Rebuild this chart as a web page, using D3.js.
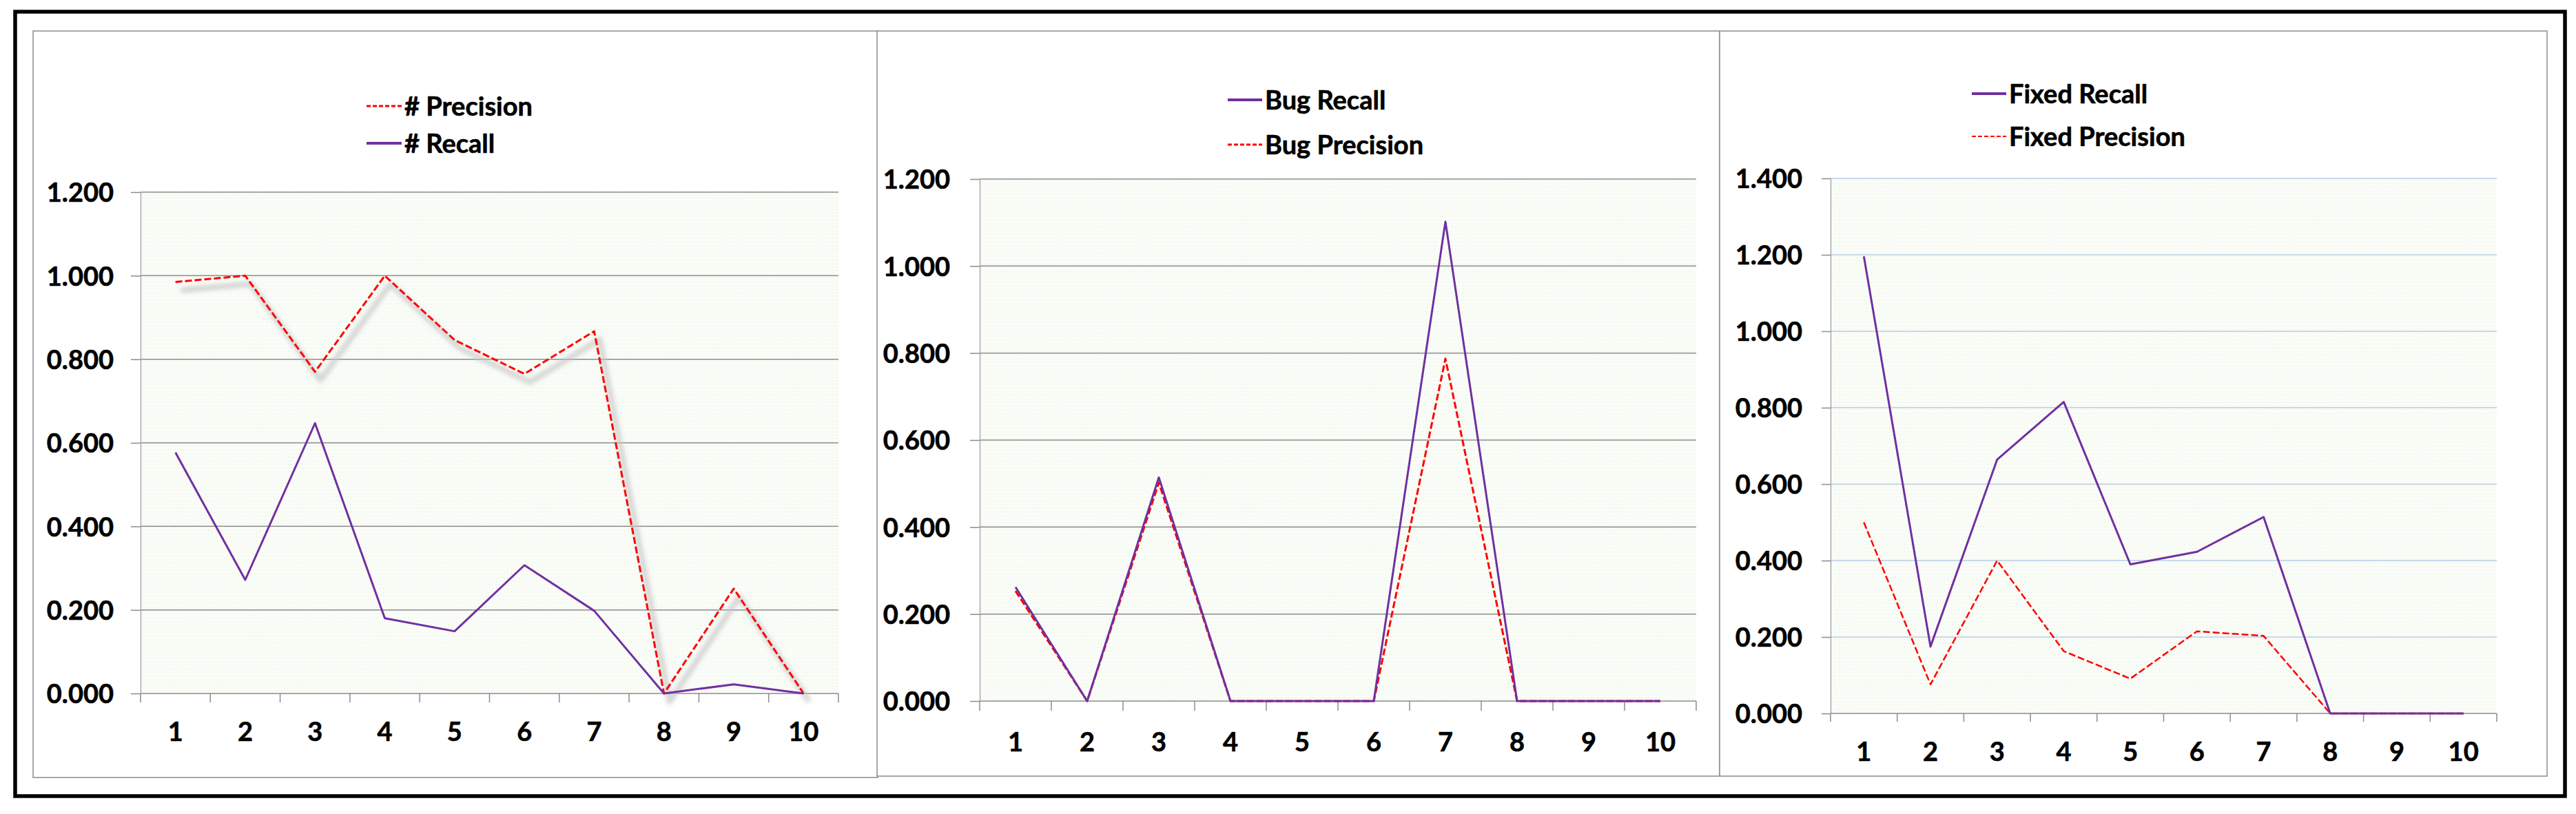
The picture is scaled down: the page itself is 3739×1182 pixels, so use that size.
<!DOCTYPE html>
<html>
<head>
<meta charset="utf-8">
<script src="https://cdn.jsdelivr.net/npm/d3@7"></script>
<style>
  body { margin: 0; background: #fff; }
  text { font-family: Lato, "Open Sans", sans-serif; font-weight: 700; fill: #000; stroke: #000; stroke-width: 0.6px; }
</style>
</head>
<body>
<div id="chart"></div>
<script>
// data
var categories = ["1", "2", "3", "4", "5", "6", "7", "8", "9", "10"];

var hashPrecision = [0.985, 1.000, 0.770, 1.000, 0.846, 0.765, 0.867, 0.000, 0.251, 0.000];
var hashRecall    = [0.577, 0.272, 0.647, 0.180, 0.149, 0.307, 0.198, 0.000, 0.022, 0.000];

var bugRecall     = [0.262, 0.000, 0.514, 0.000, 0.000, 0.000, 1.102, 0.000, 0.000, 0.000];
var bugPrecision  = [0.253, 0.000, 0.502, 0.000, 0.000, 0.000, 0.787, 0.000, 0.000, 0.000];

var fixedRecall    = [1.196, 0.175, 0.664, 0.815, 0.390, 0.423, 0.514, 0.000, 0.000, 0.000];
var fixedPrecision = [0.500, 0.076, 0.400, 0.163, 0.091, 0.215, 0.203, 0.000, 0.000, 0.000];

var ticks12 = [0, 0.2, 0.4, 0.6, 0.8, 1.0, 1.2];
var ticks14 = [0, 0.2, 0.4, 0.6, 0.8, 1.0, 1.2, 1.4];

var RED = "#ff0000", PURPLE = "#7030a0";

var width = 3739, height = 1182;

var svg = d3.select("#chart").append("svg")
  .attr("width", width)
  .attr("height", height);

var defs = svg.append("defs");

var pat = defs.append("pattern")
  .attr("id", "dots")
  .attr("patternUnits", "userSpaceOnUse")
  .attr("width", 4)
  .attr("height", 4);
pat.append("rect").attr("width", 4).attr("height", 4).attr("fill", "#ffffff");
pat.append("rect").attr("x", 0).attr("y", 0).attr("width", 1).attr("height", 1).attr("fill", "#d2e8c0");
pat.append("rect").attr("x", 2).attr("y", 2).attr("width", 1).attr("height", 1).attr("fill", "#d2e8c0");

defs.append("filter")
  .attr("id", "blur")
  .attr("x", "-10%").attr("y", "-10%").attr("width", "120%").attr("height", "120%")
  .append("feGaussianBlur")
  .attr("stdDeviation", 3);

// outer frame
svg.append("rect")
  .attr("x", 22).attr("y", 17)
  .attr("width", 3723 - 22).attr("height", 1156 - 17)
  .attr("fill", "none")
  .attr("stroke", "#000")
  .attr("stroke-width", 5.5);

var panels = [
  {
    box: [48, 45, 1274, 1129], plot: [204, 279, 1217, 1007],
    yMax: 1.2, ticks: ticks12, grid: "#8c8c8c",
    yTick: 14, xTick: 13, yLabelRight: 165, xLabelY: 1062,
    legendX: 532, legendW: 51, legendText: 587,
    series: [
      { name: "# Precision", values: hashPrecision, kind: "p", legendY: 154, shadow: true },
      { name: "# Recall", values: hashRecall, kind: "r", legendY: 208 }
    ]
  },
  {
    box: [1273, 45, 2496, 1127], plot: [1422, 260, 2462, 1018],
    yMax: 1.2, ticks: ticks12, grid: "#8c8c8c",
    yTick: 14, xTick: 14, yLabelRight: 1379, xLabelY: 1077,
    legendX: 1782, legendW: 50, legendText: 1836,
    series: [
      { name: "Bug Precision", values: bugPrecision, kind: "p", legendY: 210 },
      { name: "Bug Recall", values: bugRecall, kind: "r", legendY: 145 }
    ]
  },
  {
    box: [2496, 45, 3697, 1127], plot: [2657, 259, 3624, 1036],
    yMax: 1.4, ticks: ticks14, grid: "#b9cde5",
    yTick: 13, xTick: 12, yLabelRight: 2616, xLabelY: 1091,
    legendX: 2862, legendW: 50, legendText: 2916, thinPrecision: true,
    series: [
      { name: "Fixed Precision", values: fixedPrecision, kind: "p", legendY: 198 },
      { name: "Fixed Recall", values: fixedRecall, kind: "r", legendY: 136 }
    ]
  }
];

panels.forEach(function (cfg) {
  var g = svg.append("g");
  var b = cfg.box, p = cfg.plot;

  g.append("rect")
    .attr("x", b[0]).attr("y", b[1])
    .attr("width", b[2] - b[0]).attr("height", b[3] - b[1])
    .attr("fill", "#fff")
    .attr("stroke", "#8c8c8c")
    .attr("stroke-width", 1.5);

  var x = d3.scaleBand()
    .domain(categories)
    .range([p[0], p[2]])
    .padding(0);

  var y = d3.scaleLinear()
    .domain([0, cfg.yMax])
    .range([p[3], p[1]]);

  // plot area fill
  g.append("rect")
    .attr("x", p[0]).attr("y", y(cfg.yMax))
    .attr("width", p[2] - p[0]).attr("height", y(0) - y(cfg.yMax))
    .attr("fill", "url(#dots)");

  // gridlines
  g.selectAll(".grid")
    .data(cfg.ticks.filter(function (d) { return d > 0; }))
    .enter().append("line")
    .attr("x1", p[0]).attr("x2", p[2])
    .attr("y1", function (d) { return y(d); })
    .attr("y2", function (d) { return y(d); })
    .attr("stroke", cfg.grid)
    .attr("stroke-width", 1.5);

  // y axis ticks + labels
  var yAxis = d3.axisLeft(y)
    .tickValues(cfg.ticks)
    .tickSize(cfg.yTick)
    .tickSizeOuter(0)
    .tickPadding(p[0] - cfg.yTick - cfg.yLabelRight)
    .tickFormat(d3.format(".3f"));

  var ya = g.append("g")
    .attr("transform", "translate(" + p[0] + ",0)")
    .call(yAxis);
  ya.select(".domain").attr("stroke", "#9a9a9a").attr("stroke-width", 1.2);
  ya.selectAll("line").attr("stroke", "#8c8c8c").attr("stroke-width", 1.5);
  ya.selectAll("text")
    .attr("font-size", 38)
    .attr("font-family", null)
    .attr("fill", null)
    .attr("dy", "0.36em");

  // category axis
  g.append("line")
    .attr("x1", p[0]).attr("x2", p[2])
    .attr("y1", y(0)).attr("y2", y(0))
    .attr("stroke", "#8c8c8c")
    .attr("stroke-width", 1.5);

  var bounds = categories.map(function (c) { return x(c); }).concat([p[2]]);
  g.selectAll(".xt")
    .data(bounds)
    .enter().append("line")
    .attr("x1", function (d) { return d; })
    .attr("x2", function (d) { return d; })
    .attr("y1", y(0))
    .attr("y2", y(0) + cfg.xTick)
    .attr("stroke", "#8c8c8c")
    .attr("stroke-width", 1.5);

  g.selectAll(".xl")
    .data(categories)
    .enter().append("text")
    .attr("x", function (d) { return x(d) + x.bandwidth() / 2; })
    .attr("y", cfg.xLabelY)
    .attr("dy", "0.36em")
    .attr("text-anchor", "middle")
    .attr("font-size", 38)
    .text(function (d) { return d; });

  var line = d3.line()
    .x(function (d, i) { return x(categories[i]) + x.bandwidth() / 2; })
    .y(function (d) { return y(d); });

  cfg.series.forEach(function (s) {
    if (s.shadow) {
      g.append("path")
        .datum(s.values)
        .attr("d", line)
        .attr("fill", "none")
        .attr("stroke", "#c4c4c4")
        .attr("stroke-width", 8)
        .attr("stroke-linejoin", "round")
        .attr("opacity", 0.7)
        .attr("filter", "url(#blur)")
        .attr("transform", "translate(8,12)");
    }
    var path = g.append("path")
      .datum(s.values)
      .attr("d", line)
      .attr("fill", "none")
      .attr("stroke-linejoin", "round");
    if (s.kind === "p") {
      path.attr("stroke", RED)
        .attr("stroke-width", cfg.thinPrecision ? 2.5 : 3)
        .attr("stroke-dasharray", "10,4");
    } else {
      path.attr("stroke", PURPLE)
        .attr("stroke-width", 3);
    }

    // legend entry
    var sample = g.append("line")
      .attr("x1", cfg.legendX).attr("x2", cfg.legendX + cfg.legendW)
      .attr("y1", s.legendY).attr("y2", s.legendY);
    if (s.kind === "p") {
      sample.attr("stroke", RED)
        .attr("stroke-width", cfg.thinPrecision ? 2 : 3)
        .attr("stroke-dasharray", "6,3");
    } else {
      sample.attr("stroke", PURPLE).attr("stroke-width", 4);
    }
    g.append("text")
      .attr("x", cfg.legendText)
      .attr("y", s.legendY)
      .attr("dy", "0.36em")
      .attr("font-size", 38)
      .text(s.name);
  });
});
</script>
</body>
</html>
